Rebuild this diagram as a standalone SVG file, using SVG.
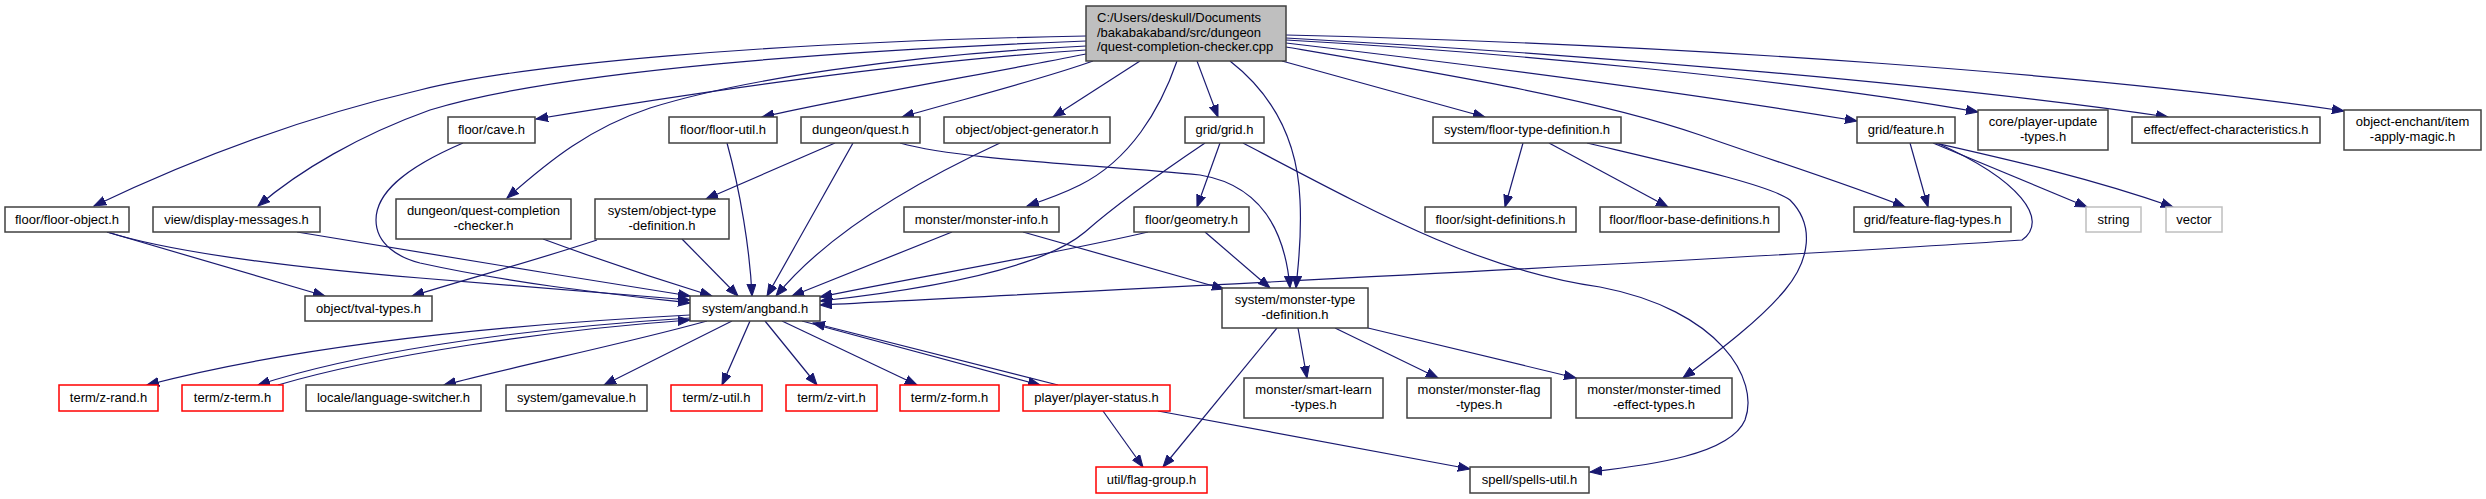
<svg xmlns="http://www.w3.org/2000/svg" width="2486" height="499" viewBox="0 0 2486 499">
<style>
.node rect{fill:#ffffff;stroke:#404040;stroke-width:1.5}
.node.red rect{stroke:#ff0000}
.node.gray rect{stroke:#bfbfbf}
.node.main rect{fill:#bfbfbf}
text{font-family:"Liberation Sans",Arial,sans-serif;font-size:13px;fill:#000000;text-anchor:middle}
text.l{text-anchor:start}
.edges path{fill:none;stroke:#191970;stroke-width:1.2;marker-end:url(#arr)}
</style>
<defs>
<marker id="arr" markerWidth="13" markerHeight="10" refX="12" refY="5" orient="auto" markerUnits="userSpaceOnUse">
<path d="M0,0.5 L12,5 L0,9.5 z" fill="#191970" stroke="#191970" stroke-width="1"/>
</marker>
</defs>
<rect width="2486" height="499" fill="#ffffff"/>
<g class="edges">
<!-- main -->
<path d="M1086,36 C760,42 520,65 420,90 C300,118 190,160 94,206"/>
<path d="M1086,41 C850,50 560,70 430,110 C360,135 300,170 258,206"/>
<path d="M1086,46 C900,55 740,80 650,108 C590,128 550,160 507,198"/>
<path d="M1086,50 C900,62 700,92 536,119"/>
<path d="M1086,54 C980,75 860,95 762,117"/>
<path d="M1093,61 C1040,80 960,100 902,117"/>
<path d="M1140,61 L1053,117"/>
<path d="M1177,61 C1160,110 1130,160 1080,185 C1060,195 1045,200 1027,206"/>
<path d="M1197,61 L1218,117"/>
<path d="M1230,61 C1280,100 1298,150 1300,200 C1302,240 1298,265 1296,288"/>
<path d="M1282,61 L1485,117"/>
<path d="M1286,47 C1450,75 1600,100 1700,135 C1780,163 1850,185 1905,207"/>
<path d="M1286,43 C1500,68 1700,95 1857,121"/>
<path d="M1286,40 C1500,52 1800,80 1978,112"/>
<path d="M1286,38 C1600,55 1950,85 2168,117"/>
<path d="M1286,35 C1700,45 2100,75 2344,111"/>
<!-- feature -->
<path d="M1910,143 L1928,207"/>
<path d="M1933,143 L2087,207"/>
<path d="M1935,143 C2010,160 2090,178 2173,207"/>
<path d="M1937,143 C2020,180 2050,220 2022,240 C1700,262 1100,290 820,305"/>
<!-- grid -->
<path d="M1220,143 L1197,207"/>
<path d="M1205,143 C1150,180 1110,210 1085,232 C1040,270 920,290 820,301"/>
<path d="M1243,143 C1380,215 1480,270 1600,287 C1720,310 1760,380 1745,420 C1730,455 1650,465 1590,472"/>
<!-- quest -->
<path d="M835,143 L706,199"/>
<path d="M853,143 L767,296"/>
<path d="M900,143 C960,160 1100,165 1200,175 C1260,185 1285,230 1290,288"/>
<!-- object-generator -->
<path d="M1000,143 C920,180 830,230 776,296"/>
<!-- monster-info -->
<path d="M952,232 L792,296"/>
<path d="M1023,232 L1224,289"/>
<!-- geometry -->
<path d="M1148,232 C1050,255 900,280 820,297"/>
<path d="M1205,232 L1270,288"/>
<!-- floor-type-definition -->
<path d="M1523,143 L1505,207"/>
<path d="M1549,143 L1668,207"/>
<path d="M1587,143 C1680,165 1770,185 1790,200 C1815,225 1810,260 1785,290 C1760,320 1720,350 1683,378"/>
<!-- monster-type-definition -->
<path d="M1298,328 L1307,378"/>
<path d="M1335,328 L1438,378"/>
<path d="M1368,328 L1576,378"/>
<path d="M1277,328 L1163,467"/>
<!-- player-status -->
<path d="M1103,411 L1143,467"/>
<path d="M1158,411 L1470,469"/>
<path d="M1058,385 L813,323"/>
<!-- angband -->
<path d="M802,321 L1040,385"/>
<path d="M690,315 C500,325 300,345 147,385"/>
<path d="M690,318 C500,330 350,355 258,385"/>
<path d="M278,385 C380,355 550,330 690,320"/>
<path d="M707,321 C620,345 520,365 444,385"/>
<path d="M732,321 L604,385"/>
<path d="M750,321 L722,385"/>
<path d="M765,321 L817,385"/>
<path d="M782,321 L917,385"/>
<!-- into angband / tval -->
<path d="M107,232 C180,255 320,270 420,278 C540,288 620,295 690,300"/>
<path d="M107,232 L325,296"/>
<path d="M297,232 C400,250 560,275 690,296"/>
<path d="M463,143 C400,170 376,195 376,220 C376,245 400,258 420,263 C520,285 620,295 690,303"/>
<path d="M543,239 C600,260 660,280 712,296"/>
<path d="M682,239 L738,296"/>
<path d="M597,240 C530,262 470,278 412,296"/>
<path d="M727,143 C740,190 750,250 752,296"/>
</g>
<g id="n-main" class="node main"><rect x="1086" y="6" width="200" height="55"/><text class="l" x="1097" y="22">C:/Users/deskull/Documents</text><text class="l" x="1097" y="36.5">/bakabakaband/src/dungeon</text><text class="l" x="1097" y="51">/quest-completion-checker.cpp</text></g>
<g id="n-floor-object" class="node"><rect x="5" y="207" width="124" height="25"/><text x="67" y="224">floor/floor-object.h</text></g>
<g id="n-display-messages" class="node"><rect x="153" y="207" width="167" height="25"/><text x="236.5" y="224">view/display-messages.h</text></g>
<g id="n-quest-completion-checker" class="node"><rect x="396" y="199" width="175" height="40"/><text x="483.5" y="215">dungeon/quest-completion</text><text x="483.5" y="230">-checker.h</text></g>
<g id="n-cave" class="node"><rect x="448" y="117" width="87" height="26"/><text x="491.5" y="134">floor/cave.h</text></g>
<g id="n-floor-util" class="node"><rect x="669" y="117" width="108" height="26"/><text x="723" y="134">floor/floor-util.h</text></g>
<g id="n-object-type-definition" class="node"><rect x="595" y="199" width="134" height="40"/><text x="662" y="215">system/object-type</text><text x="662" y="230">-definition.h</text></g>
<g id="n-quest" class="node"><rect x="801" y="117" width="119" height="26"/><text x="860.5" y="134">dungeon/quest.h</text></g>
<g id="n-object-generator" class="node"><rect x="944" y="117" width="166" height="26"/><text x="1027" y="134">object/object-generator.h</text></g>
<g id="n-grid" class="node"><rect x="1185" y="117" width="79" height="26"/><text x="1224.5" y="134">grid/grid.h</text></g>
<g id="n-monster-info" class="node"><rect x="904" y="207" width="155" height="25"/><text x="981.5" y="224">monster/monster-info.h</text></g>
<g id="n-geometry" class="node"><rect x="1134" y="207" width="115" height="25"/><text x="1191.5" y="224">floor/geometry.h</text></g>
<g id="n-floor-type-definition" class="node"><rect x="1433" y="117" width="188" height="26"/><text x="1527" y="134">system/floor-type-definition.h</text></g>
<g id="n-sight-definitions" class="node"><rect x="1425" y="207" width="151" height="25"/><text x="1500.5" y="224">floor/sight-definitions.h</text></g>
<g id="n-floor-base-definitions" class="node"><rect x="1600" y="207" width="179" height="25"/><text x="1689.5" y="224">floor/floor-base-definitions.h</text></g>
<g id="n-feature" class="node"><rect x="1857" y="117" width="98" height="26"/><text x="1906" y="134">grid/feature.h</text></g>
<g id="n-feature-flag-types" class="node"><rect x="1854" y="207" width="157" height="25"/><text x="1932.5" y="224">grid/feature-flag-types.h</text></g>
<g id="n-player-update-types" class="node"><rect x="1978" y="110" width="130" height="40"/><text x="2043" y="126">core/player-update</text><text x="2043" y="141">-types.h</text></g>
<g id="n-effect-characteristics" class="node"><rect x="2132" y="117" width="188" height="26"/><text x="2226" y="134">effect/effect-characteristics.h</text></g>
<g id="n-item-apply-magic" class="node"><rect x="2344" y="110" width="137" height="40"/><text x="2412.5" y="126">object-enchant/item</text><text x="2412.5" y="141">-apply-magic.h</text></g>
<g id="n-string" class="node gray"><rect x="2086" y="207" width="55" height="25"/><text x="2113.5" y="224">string</text></g>
<g id="n-vector" class="node gray"><rect x="2166" y="207" width="56" height="25"/><text x="2194" y="224">vector</text></g>
<g id="n-tval-types" class="node"><rect x="305" y="296" width="127" height="25"/><text x="368.5" y="313">object/tval-types.h</text></g>
<g id="n-angband" class="node"><rect x="690" y="296" width="130" height="25"/><text x="755" y="313">system/angband.h</text></g>
<g id="n-monster-type-definition" class="node"><rect x="1222" y="288" width="146" height="40"/><text x="1295" y="304">system/monster-type</text><text x="1295" y="319">-definition.h</text></g>
<g id="n-z-rand" class="node red"><rect x="59" y="385" width="99" height="26"/><text x="108.5" y="402">term/z-rand.h</text></g>
<g id="n-z-term" class="node red"><rect x="182" y="385" width="101" height="26"/><text x="232.5" y="402">term/z-term.h</text></g>
<g id="n-language-switcher" class="node"><rect x="306" y="385" width="175" height="26"/><text x="393.5" y="402">locale/language-switcher.h</text></g>
<g id="n-gamevalue" class="node"><rect x="506" y="385" width="141" height="26"/><text x="576.5" y="402">system/gamevalue.h</text></g>
<g id="n-z-util" class="node red"><rect x="671" y="385" width="91" height="26"/><text x="716.5" y="402">term/z-util.h</text></g>
<g id="n-z-virt" class="node red"><rect x="786" y="385" width="91" height="26"/><text x="831.5" y="402">term/z-virt.h</text></g>
<g id="n-z-form" class="node red"><rect x="900" y="385" width="99" height="26"/><text x="949.5" y="402">term/z-form.h</text></g>
<g id="n-player-status" class="node red"><rect x="1023" y="385" width="147" height="26"/><text x="1096.5" y="402">player/player-status.h</text></g>
<g id="n-smart-learn-types" class="node"><rect x="1244" y="378" width="139" height="40"/><text x="1313.5" y="394">monster/smart-learn</text><text x="1313.5" y="409">-types.h</text></g>
<g id="n-monster-flag-types" class="node"><rect x="1407" y="378" width="144" height="40"/><text x="1479" y="394">monster/monster-flag</text><text x="1479" y="409">-types.h</text></g>
<g id="n-monster-timed-effect-types" class="node"><rect x="1576" y="378" width="156" height="40"/><text x="1654" y="394">monster/monster-timed</text><text x="1654" y="409">-effect-types.h</text></g>
<g id="n-flag-group" class="node red"><rect x="1096" y="467" width="111" height="26"/><text x="1151.5" y="484">util/flag-group.h</text></g>
<g id="n-spells-util" class="node"><rect x="1470" y="467" width="119" height="26"/><text x="1529.5" y="484">spell/spells-util.h</text></g>
</svg>
